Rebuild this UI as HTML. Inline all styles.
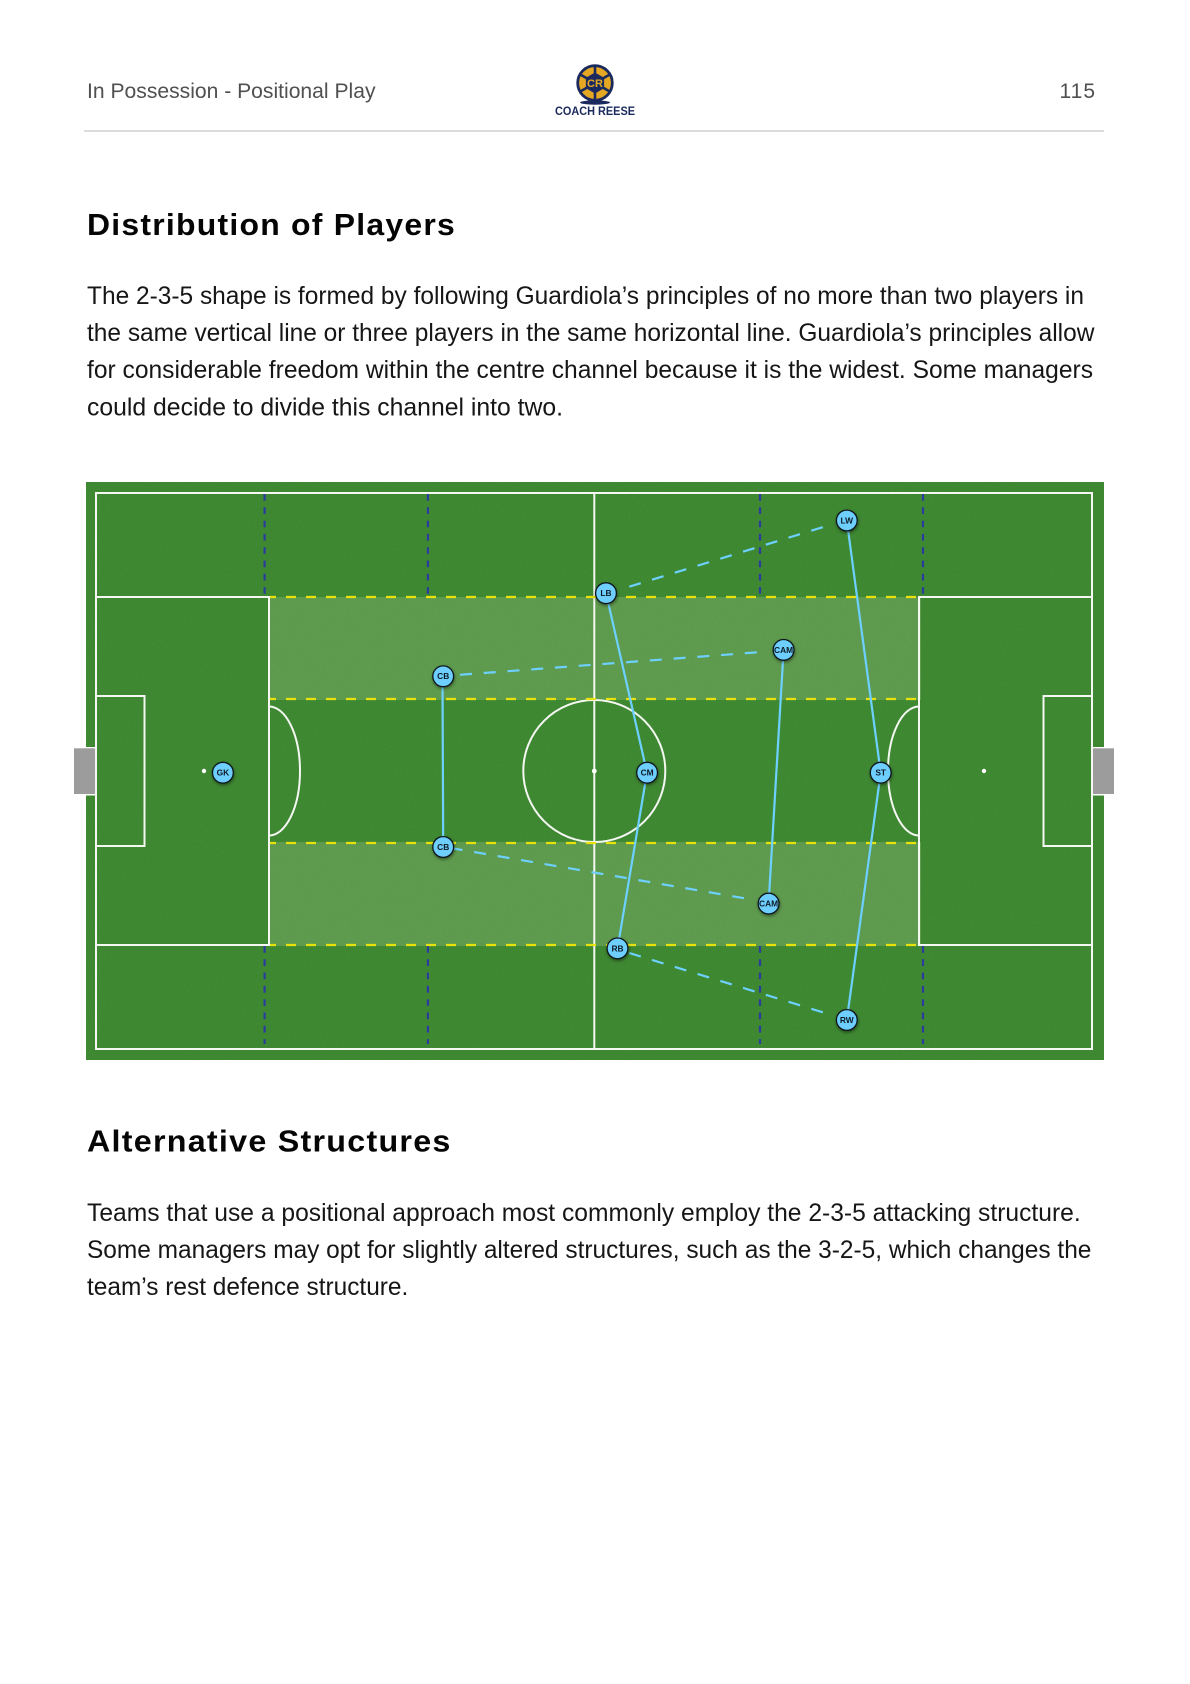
<!DOCTYPE html>
<html>
<head>
<meta charset="utf-8">
<style>
html,body{margin:0;padding:0;background:#fff;width:1190px;height:1684px;overflow:hidden}
svg{display:block}
text{font-family:"Liberation Sans",sans-serif}
.b{font-size:25px;fill:#161616}
.h{font-size:31px;font-weight:bold;fill:#050505;letter-spacing:1.2px}
.t{font-size:21px;fill:#505050}
.p{font-size:8.4px;font-weight:bold;fill:#0d1a24;text-anchor:middle}
</style>
</head>
<body>
<svg width="1190" height="1684" viewBox="0 0 1190 1684" xmlns="http://www.w3.org/2000/svg">
<defs>
<filter id="s" x="-40%" y="-40%" width="180%" height="180%"><feDropShadow dx="0.5" dy="1.5" stdDeviation="1.5" flood-color="#000" flood-opacity="0.45"/></filter>
<filter id="n" x="0" y="0" width="100%" height="100%"><feTurbulence type="fractalNoise" baseFrequency="0.7" numOctaves="2" seed="4"/><feColorMatrix type="matrix" values="0 0 0 0 0  0 0 0 0 0  0 0 0 0 0  0.07 0 0 0 0"/></filter>
</defs>
<rect width="1190" height="1684" fill="#fff"/>

<!-- header -->
<text class="t" x="87" y="98" textLength="288.5" lengthAdjust="spacingAndGlyphs">In Possession - Positional Play</text>
<text class="t" x="1059.5" y="98" textLength="35.5" lengthAdjust="spacing">115</text>
<rect x="84" y="130" width="1020" height="2" fill="#dcdcdc"/>

<!-- logo -->
<ellipse cx="595" cy="102.5" rx="15" ry="2.2" fill="#1b2a5e"/>
<circle cx="595" cy="83" r="17.3" fill="#e5a823" stroke="#1b2a5e" stroke-width="2.8"/>
<g stroke="#1b2a5e" stroke-width="2.6">
<line x1="595" y1="65" x2="595" y2="101"/>
<line x1="579.4" y1="74" x2="610.6" y2="92"/>
<line x1="579.4" y1="92" x2="610.6" y2="74"/>
</g>
<polygon points="595,72.5 604.1,77.7 604.1,88.3 595,93.5 585.9,88.3 585.9,77.7" fill="#1b2a5e"/>
<text x="595" y="87" text-anchor="middle" style="font-size:11px;font-weight:bold;fill:#e5a823">CR</text>
<text x="555" y="115" textLength="80" lengthAdjust="spacingAndGlyphs" style="font-size:11.5px;font-weight:bold;fill:#1b2a5e">COACH REESE</text>

<!-- text 1 -->
<text class="h" x="87" y="235" textLength="369" lengthAdjust="spacingAndGlyphs">Distribution of Players</text>
<text class="b" x="87" y="303.8" textLength="997" lengthAdjust="spacingAndGlyphs">The 2-3-5 shape is formed by following Guardiola’s principles of no more than two players in</text>
<text class="b" x="87" y="341.2" textLength="1007.4" lengthAdjust="spacingAndGlyphs">the same vertical line or three players in the same horizontal line. Guardiola’s principles allow</text>
<text class="b" x="87" y="378.2" textLength="1006" lengthAdjust="spacingAndGlyphs">for considerable freedom within the centre channel because it is the widest. Some managers</text>
<text class="b" x="87" y="415.5" textLength="476" lengthAdjust="spacingAndGlyphs">could decide to divide this channel into two.</text>

<!-- pitch -->
<rect x="86" y="482" width="1018" height="578" fill="#418d34"/>
<rect x="269" y="597" width="652" height="103" fill="#62a051"/>
<rect x="269" y="842" width="652" height="104" fill="#62a051"/>
<rect x="86" y="482" width="1018" height="578" filter="url(#n)"/>

<!-- goals -->
<rect x="73" y="747" width="23" height="48.5" fill="#fff"/>
<rect x="74" y="748.3" width="21" height="45.7" fill="#9c9c9c"/>
<rect x="1092" y="747" width="23" height="48.5" fill="#fff"/>
<rect x="1093" y="748.3" width="21" height="45.7" fill="#9c9c9c"/>

<!-- blue dashed -->
<g stroke="#2b3c9e" stroke-width="2.2" stroke-dasharray="6.7 6.6" fill="none">
<line x1="264.6" y1="494" x2="264.6" y2="595"/>
<line x1="427.9" y1="494" x2="427.9" y2="595"/>
<line x1="760" y1="494" x2="760" y2="595"/>
<line x1="923" y1="494" x2="923" y2="595"/>
<line x1="264.6" y1="946" x2="264.6" y2="1044"/>
<line x1="427.9" y1="946" x2="427.9" y2="1044"/>
<line x1="760" y1="946" x2="760" y2="1044"/>
<line x1="923" y1="946" x2="923" y2="1044"/>
</g>

<!-- pitch lines -->
<g stroke="#f4f7f2" stroke-width="2" fill="none">
<rect x="96" y="493" width="996" height="556"/>
<rect x="96" y="597" width="173" height="348"/>
<rect x="919" y="597" width="173" height="348"/>
<rect x="96" y="696" width="48.5" height="150"/>
<rect x="1043.5" y="696" width="48.5" height="150"/>
<line x1="594.3" y1="493" x2="594.3" y2="1049"/>
<circle cx="594.3" cy="771" r="71"/>
<path d="M269 706.5 A31 64.5 0 0 1 269 835.5"/>
<path d="M919 706.5 A31 64.5 0 0 0 919 835.5"/>
</g>
<circle cx="204" cy="771" r="2.2" fill="#fff"/>
<circle cx="594.3" cy="771" r="2.4" fill="#fff"/>
<circle cx="984" cy="771" r="2.2" fill="#fff"/>

<!-- yellow dashed -->
<g stroke="#e8e20c" stroke-width="2.2" stroke-dasharray="10 10" stroke-dashoffset="4" fill="none">
<line x1="270" y1="597" x2="918" y2="597"/>
<line x1="270" y1="699" x2="918" y2="699"/>
<line x1="270" y1="843" x2="918" y2="843"/>
<line x1="270" y1="945" x2="918" y2="945"/>
</g>

<!-- solid connectors -->
<g stroke="#6dd0ff" stroke-width="2.2" fill="none">
<line x1="442.5" y1="676" x2="443.2" y2="847"/>
<line x1="606" y1="593" x2="647" y2="772.7"/>
<line x1="647" y1="772.7" x2="617.5" y2="948.4"/>
<line x1="846.8" y1="520.5" x2="880.7" y2="772.7"/>
<line x1="880.7" y1="772.7" x2="846.8" y2="1020"/>
<line x1="783.6" y1="650" x2="768.6" y2="903.6"/>
</g>

<!-- dashed connectors -->
<g stroke="#6dd0ff" stroke-width="2.2" stroke-dasharray="12 11.8" fill="none">
<line x1="629.3" y1="586.7" x2="825" y2="526.5"/>
<line x1="460" y1="674.8" x2="759" y2="652.2"/>
<line x1="450.7" y1="848" x2="746.4" y2="898.6"/>
<line x1="629.3" y1="953" x2="824" y2="1012.7"/>
</g>

<!-- players -->
<g fill="#6ecfff" stroke="#10181c" stroke-width="1.3" filter="url(#s)">
<circle cx="222.9" cy="772.7" r="10.4"/>
<circle cx="443.2" cy="676.3" r="10.4"/>
<circle cx="443.2" cy="847" r="10.4"/>
<circle cx="606" cy="593.2" r="10.4"/>
<circle cx="617.5" cy="948.4" r="10.4"/>
<circle cx="647.1" cy="772.7" r="10.4"/>
<circle cx="846.8" cy="520.5" r="10.4"/>
<circle cx="846.8" cy="1020" r="10.4"/>
<circle cx="783.6" cy="649.9" r="10.4"/>
<circle cx="768.6" cy="903.6" r="10.4"/>
<circle cx="880.7" cy="772.7" r="10.4"/>
</g>
<text class="p" x="222.9" y="775.6">GK</text>
<text class="p" x="443.2" y="679.2">CB</text>
<text class="p" x="443.2" y="849.9">CB</text>
<text class="p" x="606" y="596.1">LB</text>
<text class="p" x="617.5" y="951.3">RB</text>
<text class="p" x="647.1" y="775.6">CM</text>
<text class="p" x="846.8" y="523.4">LW</text>
<text class="p" x="846.8" y="1022.9">RW</text>
<text class="p" x="783.6" y="652.8">CAM</text>
<text class="p" x="768.6" y="906.5">CAM</text>
<text class="p" x="880.7" y="775.6">ST</text>

<!-- text 2 -->
<text class="h" x="87" y="1151.7" textLength="364.6" lengthAdjust="spacingAndGlyphs">Alternative Structures</text>
<text class="b" x="87" y="1220.8" textLength="993.7" lengthAdjust="spacingAndGlyphs">Teams that use a positional approach most commonly employ the 2-3-5 attacking structure.</text>
<text class="b" x="87" y="1257.8" textLength="1004.4" lengthAdjust="spacingAndGlyphs">Some managers may opt for slightly altered structures, such as the 3-2-5, which changes the</text>
<text class="b" x="87" y="1295.2" textLength="321.3" lengthAdjust="spacingAndGlyphs">team’s rest defence structure.</text>
</svg>
</body>
</html>
